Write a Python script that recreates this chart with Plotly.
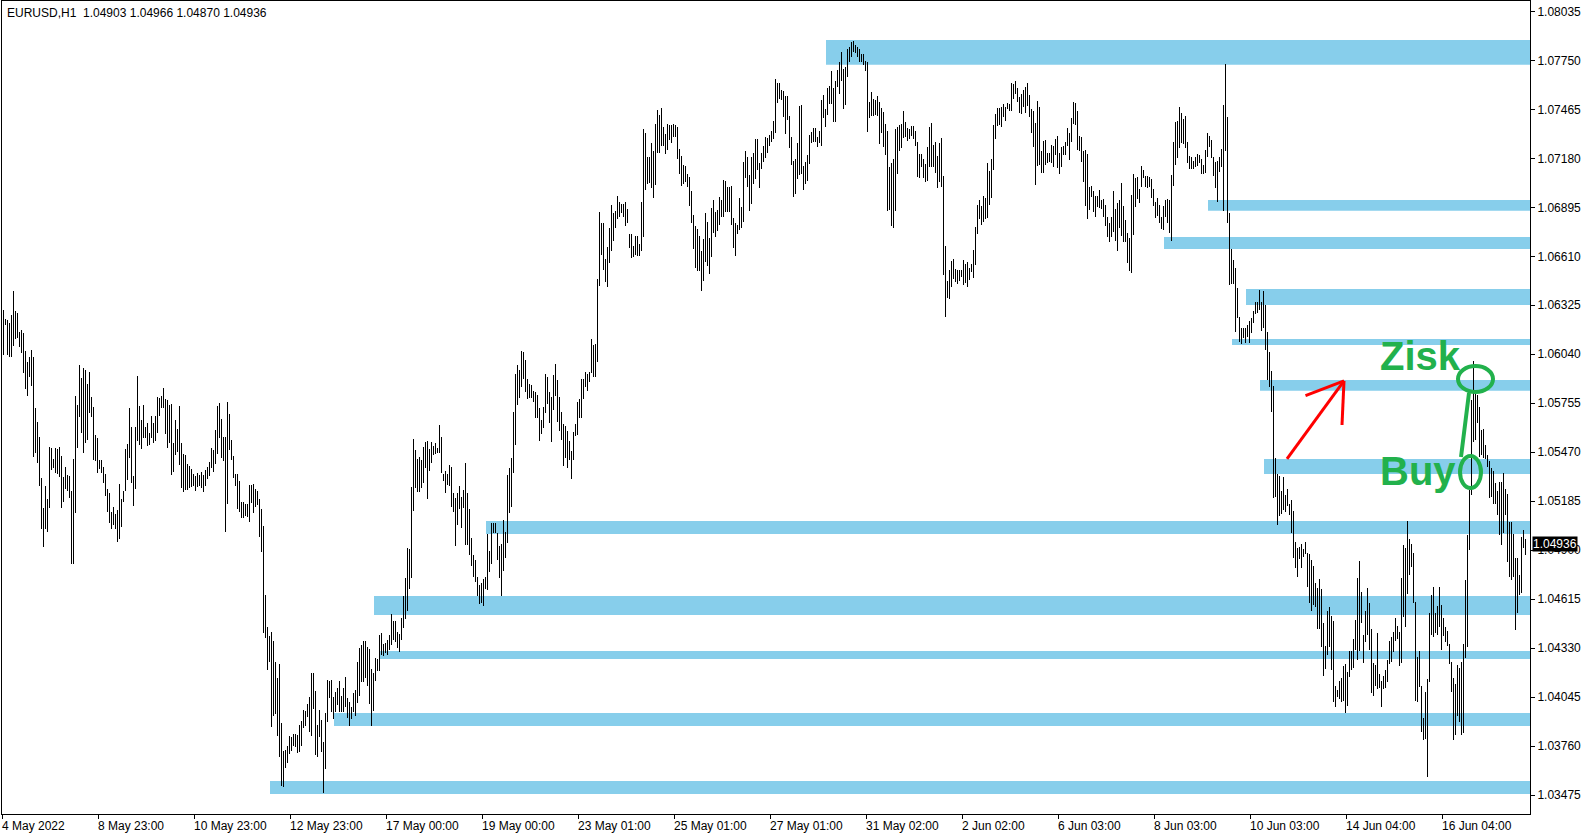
import plotly.graph_objects as go

# Hourly bar highs / lows, in price points (1 point = 0.00001)
high_pts = [
    106297,106245,106239,106220,106268,106408,106292,106278,106171,106181,
    106162,106059,105997,106022,106065,106026,105729,105648,105561,105322,
    105148,105274,105198,105503,105493,105431,105493,105487,105503,105450,
    105328,105386,105338,105332,105247,105429,105799,105745,105977,105904,
    105962,105948,105865,105939,105793,105735,105570,105555,105425,105425,
    105386,105344,105256,105235,105124,105152,105109,105134,105285,105196,
    105247,105489,105516,105729,105619,105332,105619,105916,105741,105658,
    105745,105619,105642,105584,105683,105642,105683,105794,105788,105799,
    105846,105780,105774,105745,105751,105526,105658,105606,105739,105526,
    105458,105454,105402,105392,105373,105344,105334,105348,105338,105357,
    105338,105367,105386,105416,105497,105483,105600,105741,105755,105664,
    105561,105557,105764,105693,105542,105448,105344,105344,105303,105181,
    105181,105169,105169,105280,105280,105284,105257,105245,105198,105140,
    105041,104640,104452,104401,104423,104372,104252,104155,104239,103893,
    103733,103738,103762,103820,103816,103831,103831,103826,103884,103907,
    103971,103965,104006,104045,104184,104184,104082,103884,103971,103913,
    103783,103952,104145,104140,104145,104045,104074,104101,104140,104052,
    104097,104161,104039,104016,103990,104068,104087,104252,104334,104349,
    104372,104372,104335,104324,104207,104184,104271,104266,104407,104417,
    104353,104363,104378,104408,104530,104489,104489,104425,104414,104507,
    104634,104737,104911,104907,105266,105547,105483,105431,105444,105425,
    105503,105528,105536,105489,105528,105508,105522,105493,105629,105561,
    105344,105361,105344,105396,105386,105231,105206,105235,105276,105208,
    105251,105409,105235,105140,104973,104872,104843,104743,104698,104712,
    104733,104746,104995,104896,105057,105057,105057,105002,104927,104936,
    105076,105004,105338,105377,105439,105702,105926,105978,105949,106059,
    106052,106007,105897,105867,105862,105829,105823,105804,105730,105658,
    105732,105926,105910,105823,105790,105920,105982,105891,105794,105703,
    105635,105625,105596,105536,105480,105590,105635,105765,105778,105897,
    105897,105935,105926,105935,106129,106094,106098,106478,106870,106806,
    106806,106595,106666,106773,106909,106864,106874,106961,106928,106914,
    106914,106924,106883,106740,106740,106672,106728,106728,106682,106928,
    107350,107329,107185,107189,107267,107224,107379,107461,107432,107470,
    107360,107319,107379,107373,107373,107379,107373,107360,107232,107193,
    107141,107135,107087,107073,106990,106850,106786,106769,106728,106643,
    106711,106864,106811,106714,106889,106937,106869,106879,106957,106937,
    107054,107048,107015,107011,107021,106835,106802,106792,106947,106899,
    107160,107224,107189,107083,107189,107213,107290,107290,107151,107209,
    107251,107302,107300,107315,107341,107399,107641,107620,107620,107577,
    107573,107544,107544,107426,107306,107166,107176,107271,107484,107490,
    107135,107160,107199,107315,107331,107358,107358,107306,107339,107519,
    107548,107467,107587,107600,107689,107587,107629,107693,107738,107796,
    107699,107713,107815,107829,107854,107862,107839,107825,107815,107786,
    107786,107746,107738,107509,107567,107525,107519,107542,107509,107470,
    107451,107379,107339,107131,107151,107176,107350,107360,107374,107380,
    107455,107393,107358,107351,107368,107368,107339,107277,107205,107205,
    107176,107147,107244,107364,107388,107258,107277,107194,107267,107296,
    107077,106670,106469,106531,106583,106595,106536,106531,106531,106531,
    106589,106566,106579,106540,106566,106647,106783,106909,106938,106903,
    106961,106951,107151,107106,107176,107374,107438,107471,107475,107477,
    107496,107481,107504,107496,107616,107610,107630,107591,107539,107552,
    107578,107597,107619,107548,107466,107455,107387,107513,107480,107222,
    107280,107286,107212,107212,107257,107253,107292,107309,107212,107247,
    107253,107272,107358,107329,107416,107505,107503,107455,107309,107305,
    107224,107228,107205,107015,107020,106991,106962,106960,106995,106937,
    106943,106908,106840,106801,106840,106989,106883,106918,106937,107034,
    106904,106821,106743,106714,106966,107086,107067,107069,107001,107135,
    107112,107077,107079,107073,107059,107001,106928,106947,106909,106841,
    106903,106938,106943,106938,107083,107277,107393,107399,107480,107446,
    107409,107426,107273,107193,107186,107166,107190,107205,107199,107176,
    107141,107228,107329,107310,107287,107186,107161,107164,107186,107234,
    107490,107729,107422,106860,106653,106589,106544,106428,106259,106195,
    106191,106195,106211,106234,106249,106292,106346,106346,106414,106342,
    106410,106327,106172,106055,105943,105858,105439,105344,105334,105247,
    105329,105222,105257,105170,105193,105129,104947,104912,104922,104935,
    104906,104947,104883,104877,104844,104809,104712,104679,104732,104675,
    104476,104344,104547,104569,104518,104489,104111,104088,104140,104156,
    104228,104237,104191,104315,104317,104383,104495,104741,104838,104660,
    104408,104547,104679,104596,104441,104243,104233,104421,104181,104142,
    104169,104204,104262,104373,104394,104427,104509,104460,104427,104741,
    104931,104912,105070,104966,104935,104886,104597,104281,104314,104113,
    103923,104078,104151,104537,104640,104688,104533,104578,104688,104582,
    104508,104452,104431,104353,104252,104159,104120,104233,104213,104252,
    104355,104727,104989,105249,105774,106001,105832,105803,105735,105600,
    105603,105512,105454,105419,105380,105361,105289,105247,105299,105299,
    105348,105254,105227,105066,105066,104993,104853,104853,104756,104979,
    105018,104966,
]

low_pts = [
    106036,106210,106036,106026,106026,106088,106129,106133,106084,106049,
    105929,105836,105799,105906,105857,105444,105464,105409,105274,105022,
    104917,105022,105008,105148,105367,105380,105351,105343,105324,105148,
    105183,105254,105247,105206,104818,104818,105115,105497,105677,105584,
    105464,105526,105541,105696,105677,105425,105419,105351,105373,105347,
    105289,105217,105124,105057,105022,105047,105024,104946,104963,105037,
    105179,105247,105309,105435,105293,105160,105257,105538,105512,105489,
    105551,105551,105509,105512,105551,105522,105536,105584,105683,105726,
    105730,105576,105497,105526,105338,105357,105454,105470,105396,105264,
    105241,105251,105251,105260,105266,105274,105247,105270,105274,105260,
    105241,105274,105315,105332,105377,105357,105402,105458,105555,105439,
    105421,105008,105167,105483,105425,105319,105276,105138,105125,105086,
    105086,105100,105096,105063,105177,105115,105154,105164,104979,104892,
    104421,104392,104204,104252,103874,103938,103948,103822,103700,103531,
    103525,103636,103665,103713,103734,103764,103754,103719,103725,103764,
    103864,103880,103932,103841,103822,103975,103709,103696,103812,103725,
    103486,103626,103903,104043,103961,103919,103957,104000,103957,103961,
    103957,103990,103926,103880,103919,103961,103938,104014,104054,104136,
    104136,104155,104112,104006,103880,103967,104142,104200,104200,104291,
    104285,104301,104291,104320,104349,104378,104367,104332,104309,104378,
    104446,104500,104549,104675,104741,105130,105264,105241,105241,105260,
    105293,105377,105198,105363,105409,105454,105460,105464,105468,105351,
    105303,105235,105280,105274,105154,105125,104925,105047,105140,105031,
    105144,104931,104931,104872,104810,104746,104717,104634,104587,104595,
    104578,104673,104669,104776,104820,104999,104999,104843,104741,104634,
    104781,104857,104944,105119,105154,105351,105513,105745,105788,105852,
    105895,105819,105778,105788,105788,105761,105672,105672,105538,105577,
    105610,105701,105751,105643,105532,105716,105798,105649,105596,105542,
    105393,105439,105381,105426,105315,105426,105565,105571,105672,105672,
    105780,105852,105827,105877,105933,105910,105910,105997,106439,106618,
    106531,106463,106434,106569,106643,106699,106773,106825,106841,106860,
    106841,106786,106806,106657,106598,106604,106618,106612,106614,106643,
    106724,106995,107028,107034,107005,106947,107025,107209,107209,107251,
    107253,107205,107228,107286,107271,107306,107306,107174,107089,107021,
    107030,107040,107015,106904,106805,106652,106544,106526,106524,106410,
    106468,106579,106553,106505,106608,106747,106720,106757,106792,106840,
    106840,106866,106869,106866,106792,106656,106614,106738,106763,106776,
    106811,107063,107015,106873,106912,107028,107059,107112,107009,107118,
    107160,107183,107209,107251,107277,107292,107329,107503,107525,107519,
    107422,107321,107403,107242,107141,106957,106970,107059,107083,107087,
    106995,107028,107050,107147,107271,107277,107277,107247,107267,107251,
    107416,107364,107432,107496,107496,107393,107393,107596,107554,107629,
    107467,107490,107651,107742,107771,107800,107794,107767,107742,107742,
    107722,107689,107335,107412,107426,107428,107432,107428,107263,107329,
    107244,107199,106873,106879,106788,106776,106873,107088,107225,107242,
    107296,107306,107283,107293,107312,107293,107254,107073,107068,107128,
    107064,107044,107050,107128,107128,107128,107093,107009,107044,107015,
    106502,106259,106370,106360,106434,106478,106459,106447,106469,106492,
    106443,106457,106434,106472,106521,106486,106560,106738,106827,106792,
    106812,106827,106835,106909,106947,107112,107293,107370,107374,107364,
    107422,107399,107465,107457,107457,107523,107552,107506,107446,107438,
    107477,107442,107484,107422,107325,107247,107024,107137,107141,107096,
    107096,107141,107150,107160,107154,107131,107199,107125,107088,107131,
    107199,107199,107253,107170,107272,107377,107373,107228,107224,107160,
    107044,106902,106827,106879,106956,106869,106840,106898,106889,106885,
    106840,106788,106720,106695,106724,106749,106701,106642,106776,106730,
    106695,106695,106569,106524,106511,106733,106894,106943,106918,107015,
    107063,107011,107005,107015,106951,106902,106835,106846,106802,106769,
    106763,106841,106806,106744,106701,107021,107141,107180,107238,107271,
    107263,107238,107155,107116,107116,107116,107131,107137,107151,107087,
    107087,107097,107190,107248,107180,107079,107005,106928,107102,107131,
    106876,107225,106802,106443,106447,106447,106172,106249,106110,106098,
    106137,106104,106143,106104,106162,106224,106273,106282,106298,106178,
    106191,106065,105891,105848,105703,105202,105212,105047,105100,105109,
    105135,105125,105160,105106,105000,104854,104796,104747,104850,104799,
    104863,104877,104689,104592,104549,104582,104569,104443,104443,104340,
    104169,104210,104288,104340,104204,104020,103987,104049,104034,104020,
    104026,103956,103995,104165,104204,104218,104321,104259,104317,104476,
    104243,104365,104408,104321,104069,104055,104111,104092,104098,103987,
    104092,104098,104136,104237,104253,104311,104373,104385,104224,104247,
    104511,104456,104644,104757,104805,104591,104023,104019,104107,103841,
    103797,103800,103579,104136,104407,104398,104417,104407,104456,104320,
    104401,104368,104343,104239,104074,103797,103826,103938,103899,103826,
    103835,104272,104339,104902,105222,105532,105541,105638,105444,105454,
    105435,105431,105382,105202,105212,105167,105169,105105,104989,104931,
    104999,105105,104830,104747,104727,104747,104436,104533,104640,104654,
    104911,104870,
]

date_labels = ["4 May 2022", "8 May 23:00", "10 May 23:00", "12 May 23:00",
               "17 May 00:00", "19 May 00:00", "23 May 01:00", "25 May 01:00",
               "27 May 01:00", "31 May 02:00", "2 Jun 02:00", "6 Jun 03:00",
               "8 Jun 03:00", "10 Jun 03:00", "14 Jun 04:00", "16 Jun 04:00"]
bars_per_label = 48

price_labels = ["1.08035", "1.07750", "1.07465", "1.07180", "1.06895", "1.06610",
                "1.06325", "1.06040", "1.05755", "1.05470", "1.05185", "1.04900",
                "1.04615", "1.04330", "1.04045", "1.03760", "1.03475"]

# Support / resistance zones: first bar, lower and upper price
zone_start = [412, 603, 581, 622, 615, 629, 631, 242, 186, 189, 166, 134]
zone_low = [1.07724, 1.06875, 1.06652, 1.06327, 1.06094, 1.05828,
            1.05344, 1.04995, 1.04524, 1.04268, 1.03878, 1.03483]
zone_high = [1.07868, 1.06937, 1.06722, 1.06420, 1.06129, 1.05891,
             1.05431, 1.05070, 1.04634, 1.04314, 1.03954, 1.03558]

title_text = "EURUSD,H1\u00a0\u00a01.04903 1.04966 1.04870 1.04936"
last_price = 1.04936

n = min(len(high_pts), len(low_pts))
idx = list(range(n))
highs = [h / 1e5 for h in high_pts[:n]]
lows = [l / 1e5 for l in low_pts[:n]]

X_MIN, X_MAX = -0.75, 763.25
Y_MIN, Y_MAX = 1.03366, 1.08095
GREEN = "#22B14C"
FONT = "Liberation Sans, Arial, sans-serif"

fig = go.Figure()
fig.add_trace(go.Bar(
    x=idx, base=lows, y=[h - l for h, l in zip(highs, lows)],
    width=0.45, marker=dict(color="#000000", line=dict(width=0)),
    hoverinfo="skip", showlegend=False,
))

shapes = []
for s, lo, hi in zip(zone_start, zone_low, zone_high):
    shapes.append(dict(type="rect", xref="x", yref="y", x0=s - 0.75, x1=X_MAX,
                       y0=lo, y1=hi, fillcolor="#87CEEB", line=dict(width=0),
                       layer="below"))

# Hand-drawn annotations
shapes.append(dict(type="circle", xref="x", yref="y", x0=727.25, x1=744.75,
                   y0=1.05821, y1=1.05972, line=dict(color=GREEN, width=4)))
shapes.append(dict(type="circle", xref="x", yref="y", x0=728.25, x1=738.75,
                   y0=1.05262, y1=1.05448, line=dict(color=GREEN, width=4)))
shapes.append(dict(type="line", xref="x", yref="y", x0=732.75, y0=1.05815,
                   x1=728.75, y1=1.05443, line=dict(color=GREEN, width=4)))
# red arrow
shapes.append(dict(type="line", xref="x", yref="y", x0=641.75, y0=1.05431,
                   x1=670.25, y1=1.05885, line=dict(color="#FF0000", width=3)))
shapes.append(dict(type="line", xref="x", yref="y", x0=670.25, y0=1.05885,
                   x1=651.0, y1=1.05800, line=dict(color="#FF0000", width=3)))
shapes.append(dict(type="line", xref="x", yref="y", x0=670.25, y0=1.05885,
                   x1=669.25, y1=1.05629, line=dict(color="#FF0000", width=3)))

annotations = []
for k, lab in enumerate(date_labels):
    annotations.append(dict(x=k * bars_per_label - 0.75, y=0, xref="x", yref="paper",
                            text=lab, showarrow=False, xanchor="left", yanchor="top",
                            xshift=-2, yshift=-3,
                            font=dict(family=FONT, size=12, color="#000000")))
annotations.append(dict(x=0, y=1, xref="paper", yref="paper", text=title_text,
                        showarrow=False, xanchor="left", yanchor="top", xshift=3,
                        yshift=-3, font=dict(family=FONT, size=12, color="#000000")))
annotations.append(dict(x=1, y=last_price, xref="paper", yref="y", text="1.04936",
                        showarrow=False, xanchor="left", yanchor="middle", xshift=2,
                        bgcolor="#000000", borderpad=0,
                        font=dict(family=FONT, size=12, color="#FFFFFF")))
annotations.append(dict(x=687.25, y=1.06028, xref="x", yref="y", text="<b>Zisk</b>",
                        showarrow=False, xanchor="left", yanchor="middle",
                        font=dict(family=FONT, size=40, color=GREEN)))
annotations.append(dict(x=687.25, y=1.05363, xref="x", yref="y", text="<b>Buy</b>",
                        showarrow=False, xanchor="left", yanchor="middle",
                        font=dict(family=FONT, size=40, color=GREEN)))

fig.update_layout(
    width=1594, height=838,
    margin=dict(l=2, r=64, t=1, b=24, pad=0),
    paper_bgcolor="#FFFFFF", plot_bgcolor="#FFFFFF",
    showlegend=False, bargap=0,
    shapes=shapes, annotations=annotations,
    xaxis=dict(range=[X_MIN, X_MAX], showgrid=False, zeroline=False,
               showline=True, linecolor="#000000", linewidth=1, mirror=True,
               ticks="outside", ticklen=4, tickcolor="#000000",
               tickvals=[k * bars_per_label - 0.75 for k in range(len(date_labels))],
               showticklabels=False, fixedrange=True),
    yaxis=dict(range=[Y_MIN, Y_MAX], side="right", showgrid=False, zeroline=False,
               showline=True, linecolor="#000000", linewidth=1, mirror=True,
               ticks="outside", ticklen=4, tickcolor="#000000",
               tickvals=[float(p) for p in price_labels], ticktext=price_labels,
               tickfont=dict(family=FONT, size=12, color="#000000"), fixedrange=True),
)

fig.write_html("out.html", include_plotlyjs=True, full_html=True,
               config={"displayModeBar": False},
               post_script="document.body.style.margin='0';")
